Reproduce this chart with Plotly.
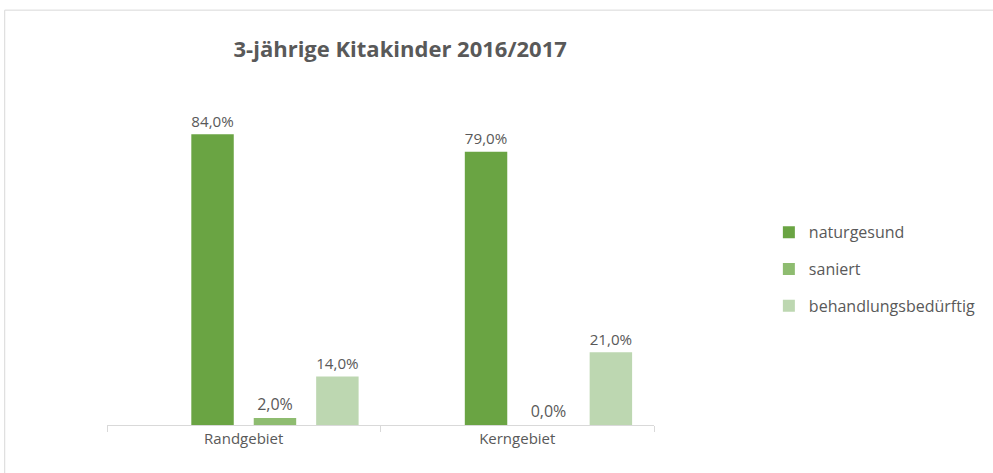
import plotly.graph_objects as go

categories = ["Randgebiet", "Kerngebiet"]
series_names = ["naturgesund", "saniert", "behandlungsbedürftig"]
naturgesund = [84.0, 79.0]
saniert = [2.0, 0.0]
behandlungsbeduerftig = [14.0, 21.0]
colors = ["#6AA443", "#8EBC70", "#BDD7B1"]

FONT = "Open Sans"
GREY = "#595959"

fig = go.Figure()
# empty leading series (as in the source chart, occupies the first slot)
fig.add_trace(go.Bar(x=categories, y=[None, None], showlegend=False,
                     hoverinfo="skip", marker_color="rgba(0,0,0,0)"))
for name, vals, col in zip(series_names, [naturgesund, saniert, behandlungsbeduerftig], colors):
    fig.add_trace(go.Bar(
        x=categories, y=vals, name=name, marker_color=col,
        marker_line_width=0, legendgroup=name,
        text=vals, texttemplate="%{y:.1f}%", textposition="outside",
        textfont=dict(family=FONT, size=16, color=GREY), cliponaxis=False,
    ))

fig.update_layout(
    width=993, height=473,
    margin=dict(l=107, r=336, t=79, b=48),
    paper_bgcolor="white", plot_bgcolor="white",
    barmode="group", bargap=0.087, bargroupgap=0.32,
    separators=",.",
    title=dict(text="<b>3-jährige Kitakinder 2016/2017</b>", x=0.403, xanchor="center",
               y=0.895, yanchor="middle",
               font=dict(family=FONT, size=22, color=GREY)),
    font=dict(family=FONT, size=15, color=GREY),
    legend=dict(x=1.21, y=0.45, xanchor="left", yanchor="middle",
                font=dict(family=FONT, size=16, color=GREY),
                tracegroupgap=13, itemwidth=30, bgcolor="rgba(0,0,0,0)"),
    showlegend=True,
)
fig.update_xaxes(showline=True, linecolor="#D9D9D9", linewidth=1,
                 ticks="outside", tickson="boundaries", ticklen=6, tickcolor="#D9D9D9",
                 tickfont=dict(family=FONT, size=15, color=GREY), showgrid=False)
fig.update_yaxes(range=[0, 100], visible=False, showgrid=False)

# outer chart border
fig.add_shape(type="rect", xref="paper", yref="paper",
              x0=-0.187, x1=1.7, y0=-0.3, y1=1.199,
              line=dict(color="#D9D9D9", width=1), fillcolor="rgba(0,0,0,0)", layer="below")

fig.write_html("out.html", config={"displayModeBar": False},
               post_script="document.body.style.margin='0';")
